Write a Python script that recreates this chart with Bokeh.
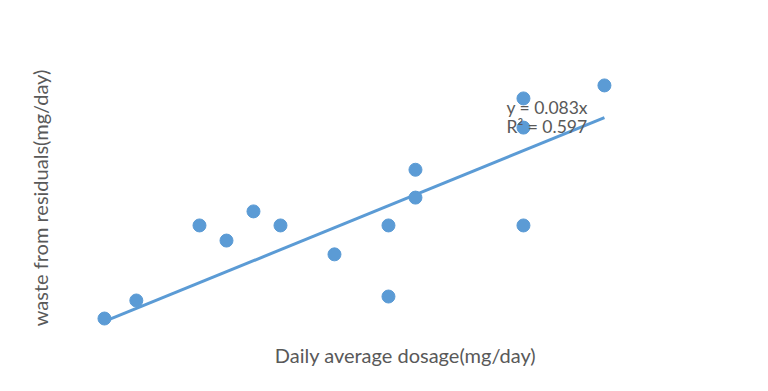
from bokeh.plotting import figure
from bokeh.models import Range1d, Label, ColumnDataSource, FixedTicker
from bokeh.embed import file_html
from bokeh.resources import INLINE

# Data
dosage = [12.4, 18.3, 30, 35, 40, 45, 55, 65, 65, 70, 70, 90, 90, 90, 105]
waste = [1.14, 1.82, 4.65, 4.08, 5.18, 4.65, 3.56, 4.65, 1.97, 6.75, 5.70, 4.65, 9.44, 8.34, 9.93]
slope = 0.083
r2 = 0.597

blue = "#5B9BD5"
gray = "#595959"

p = figure(width=752, height=375, output_backend="svg", toolbar_location=None,
           x_range=Range1d(6.11, 130.2), y_range=Range1d(0.50, 10.87),
           min_border_left=70, min_border_right=12, min_border_top=60, min_border_bottom=40)
p.outline_line_color = None
p.xgrid.visible = False
p.ygrid.visible = False
p.background_fill_color = "white"
p.border_fill_color = "white"

for ax in (p.xaxis, p.yaxis):
    ax.ticker = FixedTicker(ticks=[])
    ax.axis_line_color = None
    ax.major_tick_line_color = None
    ax.minor_tick_line_color = None
    ax.major_tick_out = 0
    ax.major_label_standoff = 0
    ax.axis_label_text_font = "Lato"
    ax.axis_label_text_font_size = "20px"
    ax.axis_label_text_font_style = "normal"
    ax.axis_label_text_color = gray

p.xaxis.axis_label = "Daily average dosage(mg/day)"
p.yaxis.axis_label = "waste from residuals(mg/day)"
p.xaxis.axis_label_standoff = 7
p.yaxis.axis_label_standoff = 19

# trendline through origin
xs = [min(dosage), max(dosage)]
ys = [slope * x for x in xs]
p.line(xs, ys, line_color=blue, line_width=3)

src = ColumnDataSource(dict(x=dosage, y=waste))
p.scatter("x", "y", source=src, size=13, fill_color=blue, line_color=blue)

p.add_layout(Label(x=86.85, y=9.10, text=f"y = {slope}x", text_font="Lato",
                   text_font_size="17.5px", text_color=gray, text_baseline="alphabetic"))
p.add_layout(Label(x=86.85, y=8.38, text=f"R² = {r2}", text_font="Lato",
                   text_font_size="17.5px", text_color=gray, text_baseline="alphabetic"))

open("out.html", "w").write(file_html(p, INLINE))
